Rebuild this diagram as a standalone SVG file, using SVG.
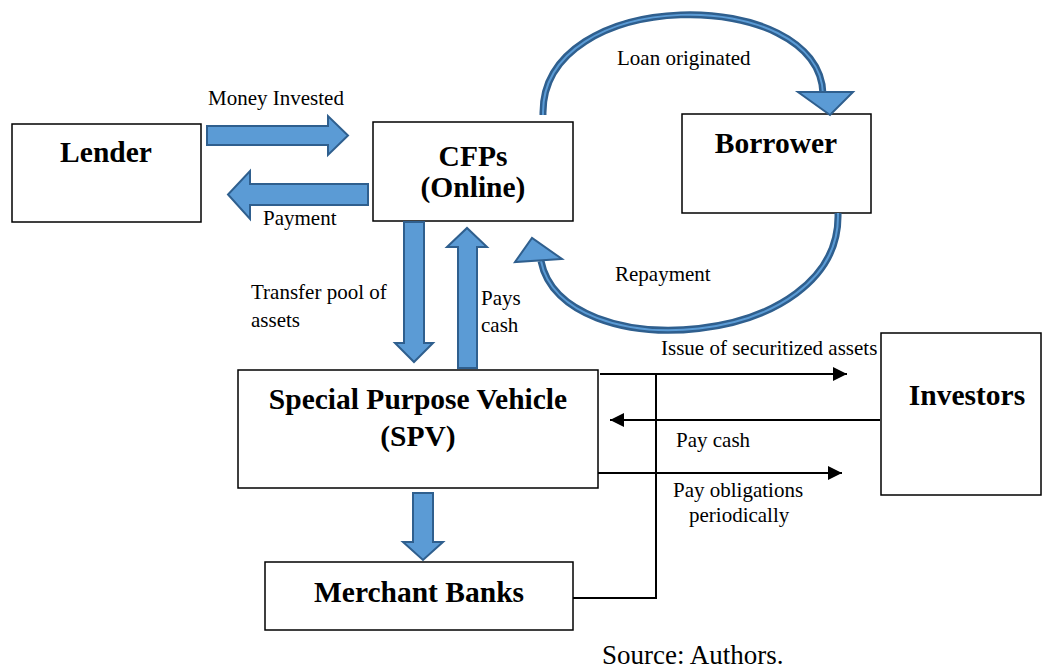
<svg xmlns="http://www.w3.org/2000/svg" width="1042" height="669" viewBox="0 0 1042 669">
  <defs>
    <style>
      .box { fill: #ffffff; stroke: #000000; stroke-width: 1.5; }
      .name { font-family: "Liberation Serif", "Times New Roman", serif; font-weight: bold; font-size: 29.5px; fill: #000; text-anchor: middle; }
      .lbl { font-family: "Liberation Serif", "Times New Roman", serif; font-size: 21px; fill: #000; }
      .block { fill: #5b9bd5; stroke: #2f5f8e; stroke-width: 2; stroke-linejoin: miter; }
      .arcOut { fill: none; stroke: #2f5f8e; stroke-width: 7; }
      .arcIn { fill: none; stroke: #5b9bd5; stroke-width: 2; }
      .line { fill: none; stroke: #000; stroke-width: 2; }
    </style>
    <marker id="tri" viewBox="0 0 10 10" refX="10" refY="5" markerWidth="16" markerHeight="14" markerUnits="userSpaceOnUse" orient="auto">
      <path d="M0,0 L10,5 L0,10 Z" fill="#000"/>
    </marker>
  </defs>

  <!-- nodes -->
  <g id="lender">
    <rect class="box" x="12" y="124" width="189" height="98"/>
    <text class="name" x="106" y="162">Lender</text>
  </g>
  <g id="cfps">
    <rect class="box" x="373" y="122" width="200" height="99"/>
    <text class="name" x="473" y="166">CFPs</text>
    <text class="name" x="473" y="197">(Online)</text>
  </g>
  <g id="borrower">
    <rect class="box" x="682" y="114" width="189" height="99"/>
    <text class="name" x="776" y="153">Borrower</text>
  </g>
  <g id="spv">
    <rect class="box" x="238" y="370" width="360" height="118"/>
    <text class="name" x="418" y="409">Special Purpose Vehicle</text>
    <text class="name" x="418" y="446">(SPV)</text>
  </g>
  <g id="investors">
    <rect class="box" x="881" y="333" width="160" height="162"/>
    <text class="name" x="967" y="405">Investors</text>
  </g>
  <g id="merchant-banks">
    <rect class="box" x="265" y="562" width="308" height="68"/>
    <text class="name" x="419" y="602">Merchant Banks</text>
  </g>

  <!-- connectors -->
  <g id="connectors">
    <!-- block arrows -->
    <polygon class="block" points="207,126 328,126 328,116 348,135.5 328,155 328,145 207,145"/>
    <polygon class="block" points="368,184 250,184 250,171 228,194.5 250,219 250,205 368,205"/>
    <polygon class="block" points="404,222 424,222 424,343 433,343 414,362 395,343 404,343"/>
    <polygon class="block" points="458,368 477,368 477,247 487,247 467,228 447,247 458,247"/>
    <polygon class="block" points="413,493 433,493 433,542 443,542 423,560 403,542 413,542"/>

    <!-- curved arrows -->
    <path class="arcOut" d="M543,115 C540,-15 820,-15 823,94"/>
    <path class="arcIn" d="M543,115 C540,-15 820,-15 823,94"/>
    <polygon class="block" points="798,92 853,92 830,115"/>

    <path class="arcOut" d="M838,213 C842,350 562,368 541,261"/>
    <path class="arcIn" d="M838,213 C842,350 562,368 541,261"/>
    <polygon class="block" points="515,262 532,238 562,259"/>

    <!-- thin flow lines -->
    <line class="line" x1="600" y1="374" x2="847" y2="374" marker-end="url(#tri)"/>
    <line class="line" x1="880" y1="420" x2="610" y2="420" marker-end="url(#tri)"/>
    <line class="line" x1="598" y1="473" x2="842" y2="473" marker-end="url(#tri)"/>
    <polyline class="line" points="656,374 656,598 573,598"/>
  </g>

  <!-- labels -->
  <g id="labels">
    <text class="lbl" x="208" y="105">Money Invested</text>
    <text class="lbl" x="263" y="225">Payment</text>
    <text class="lbl" x="617" y="65">Loan originated</text>
    <text class="lbl" x="615" y="281">Repayment</text>
    <text class="lbl" x="251" y="299">Transfer pool of</text>
    <text class="lbl" x="251" y="327">assets</text>
    <text class="lbl" x="481" y="305">Pays</text>
    <text class="lbl" x="481" y="332">cash</text>
    <text class="lbl" x="661" y="355">Issue of securitized assets</text>
    <text class="lbl" x="676" y="447">Pay cash</text>
    <text class="lbl" x="673" y="497">Pay obligations</text>
    <text class="lbl" x="689" y="522">periodically</text>
    <text class="lbl" x="602" y="664" style="font-size:27px">Source: Authors.</text>
  </g>
</svg>
